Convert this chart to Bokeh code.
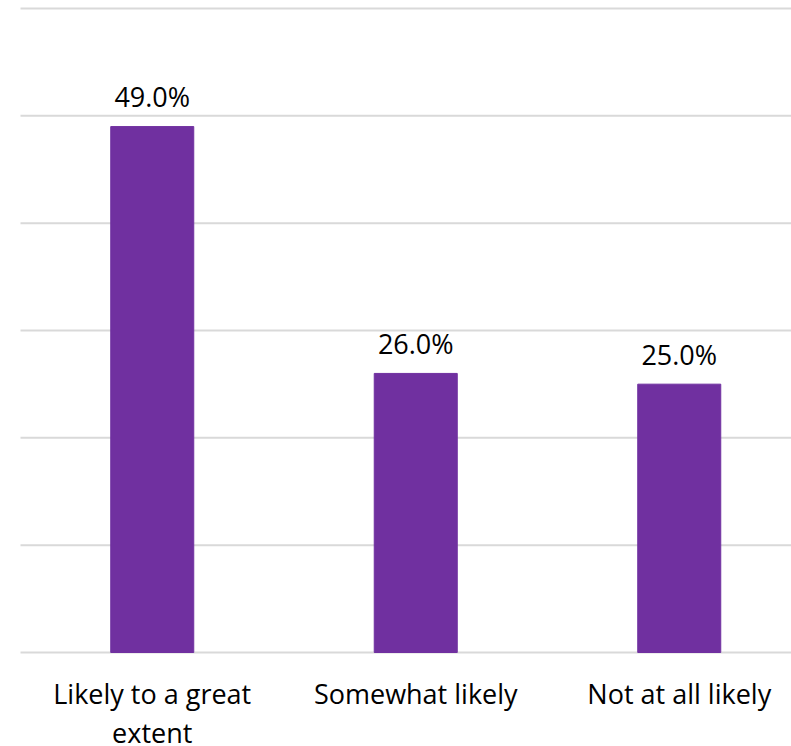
from bokeh.plotting import figure
from bokeh.models import ColumnDataSource, Range1d, FixedTicker
from bokeh.core.properties import value
from bokeh.embed import file_html
from bokeh.resources import INLINE

categories = ["Likely to a great\nextent", "Somewhat likely", "Not at all likely"]
values = [0.49, 0.26, 0.25]
labels = ["49.0%", "26.0%", "25.0%"]
y_ticks = [0, 0.1, 0.2, 0.3, 0.4, 0.5, 0.6]

FONT = "Open Sans"
FSIZE = "27px"
LINE_STEP = 39
xs = [i + 0.5 for i in range(len(categories))]
src = ColumnDataSource(dict(x=xs, top=values, label=labels))

# split category labels into lines, one text row per line
cx, cy, ct, coff = [], [], [], []
for x, c in zip(xs, categories):
    for i, line in enumerate(c.split("\n")):
        cx.append(x)
        cy.append(0)
        ct.append(line)
        coff.append(41 + LINE_STEP * i)
csrc = ColumnDataSource(dict(x=cx, y=cy, text=ct, off=coff))

# frame covers full canvas; 0.6 at px 8, 0 at px 652
ppu = 644 / 0.6
p = figure(width=791, height=746, output_backend="svg", toolbar_location=None,
           x_range=Range1d(-20 / 263.5, 771 / 263.5),
           y_range=Range1d(-94 / ppu, 0.6 + 8 / ppu),
           min_border=0, x_axis_location=None, y_axis_location=None)
p.outline_line_color = None
p.background_fill_color = "white"
p.border_fill_color = "white"
p.xgrid.visible = False
p.ygrid.visible = False

gx0 = [0] * len(y_ticks)
gx1 = [771 / 263.5] * len(y_ticks)
p.segment(x0=gx0, x1=gx1, y0=y_ticks, y1=y_ticks, line_color="#d9d9d9", line_width=2)

p.vbar(x="x", top="top", width=0.315, bottom=0, source=src, color="#7030A0")
p.text(x="x", y="top", text="label", source=src, text_align="center",
       text_baseline="alphabetic", y_offset=-30, text_font=value(FONT),
       text_font_size=FSIZE, text_color="#000000")
p.text(x="x", y="y", text="text", source=csrc, text_align="center",
       text_baseline="alphabetic", y_offset="off", text_font=value(FONT),
       text_font_size=FSIZE, text_color="#000000")

open("out.html", "w").write(file_html(p, INLINE))
